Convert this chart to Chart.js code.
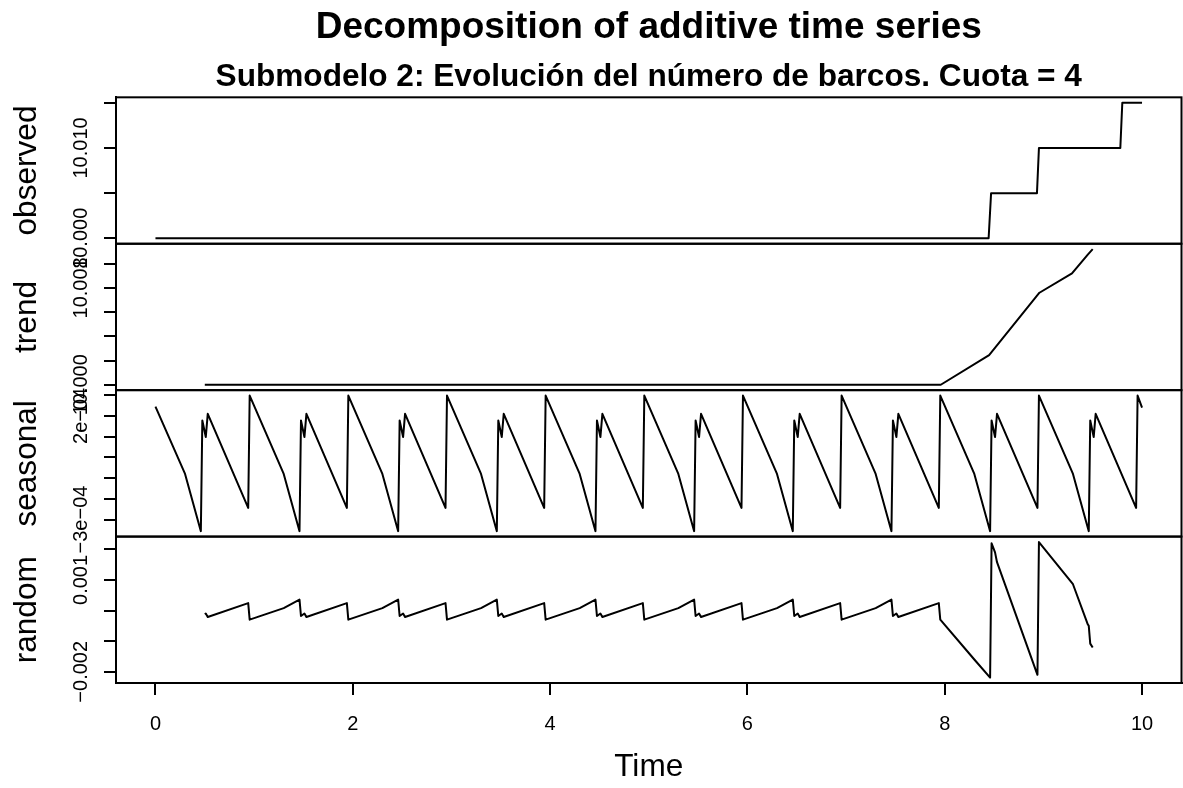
<!DOCTYPE html>
<html>
<head>
<meta charset="utf-8">
<title>Decomposition of additive time series</title>
<script src="https://cdn.jsdelivr.net/npm/chart.js@4.4.1/dist/chart.umd.min.js"></script>
<style>
  html, body { margin: 0; padding: 0; background: #fff; overflow: hidden; }
  canvas { display: block; }
</style>
</head>
<body>
<canvas id="myChart" width="1183" height="788"></canvas>
<script>
// observed series (step changes in the number of boats)
const observedTime = [0, 8.445, 8.47, 8.935, 8.955, 9.78, 9.80, 10];
const observedValue = [10.000, 10.000, 10.005, 10.005, 10.010, 10.010, 10.015, 10.015];

// trend (moving average, defined from 0.5 to 9.5)
const trendTime = [0.5, 7.96, 8.45, 8.96, 9.29, 9.45, 9.5];
const trendValue = [10.000, 10.000, 10.00245, 10.0076, 10.0092, 10.01075, 10.0112];

// seasonal component, vertices of each yearly cycle
const seasonalTime = [
  0,
  0.30, 0.46, 0.475, 0.51, 0.53, 0.94, 0.955,
  1.30, 1.46, 1.475, 1.51, 1.53, 1.94, 1.955,
  2.30, 2.46, 2.475, 2.51, 2.53, 2.94, 2.955,
  3.30, 3.46, 3.475, 3.51, 3.53, 3.94, 3.955,
  4.30, 4.46, 4.475, 4.51, 4.53, 4.94, 4.955,
  5.30, 5.46, 5.475, 5.51, 5.53, 5.94, 5.955,
  6.30, 6.46, 6.475, 6.51, 6.53, 6.94, 6.955,
  7.30, 7.46, 7.475, 7.51, 7.53, 7.94, 7.955,
  8.30, 8.46, 8.475, 8.51, 8.53, 8.94, 8.955,
  9.30, 9.46, 9.475, 9.51, 9.53, 9.94, 9.955,
  10
];
const seasonalValue = [
  0.000245,
  -0.000080, -0.000356, 0.000178, 0.000098, 0.000210, -0.000244, 0.000298,
  -0.000080, -0.000356, 0.000178, 0.000098, 0.000210, -0.000244, 0.000298,
  -0.000080, -0.000356, 0.000178, 0.000098, 0.000210, -0.000244, 0.000298,
  -0.000080, -0.000356, 0.000178, 0.000098, 0.000210, -0.000244, 0.000298,
  -0.000080, -0.000356, 0.000178, 0.000098, 0.000210, -0.000244, 0.000298,
  -0.000080, -0.000356, 0.000178, 0.000098, 0.000210, -0.000244, 0.000298,
  -0.000080, -0.000356, 0.000178, 0.000098, 0.000210, -0.000244, 0.000298,
  -0.000080, -0.000356, 0.000178, 0.000098, 0.000210, -0.000244, 0.000298,
  -0.000080, -0.000356, 0.000178, 0.000098, 0.000210, -0.000244, 0.000298,
  -0.000080, -0.000356, 0.000178, 0.000098, 0.000210, -0.000244, 0.000298,
  0.000240
];

// remainder
const randomTime = [
  0.5, 0.51, 0.53, 0.94, 0.955,
  1.30, 1.46, 1.475, 1.51, 1.53, 1.94, 1.955,
  2.30, 2.46, 2.475, 2.51, 2.53, 2.94, 2.955,
  3.30, 3.46, 3.475, 3.51, 3.53, 3.94, 3.955,
  4.30, 4.46, 4.475, 4.51, 4.53, 4.94, 4.955,
  5.30, 5.46, 5.475, 5.51, 5.53, 5.94, 5.955,
  6.30, 6.46, 6.475, 6.51, 6.53, 6.94, 6.955,
  7.30, 7.46, 7.475, 7.51, 7.53, 7.94, 7.955,
  8.30, 8.46, 8.475, 8.51, 8.53, 8.94, 8.955,
  9.30, 9.45, 9.46, 9.475, 9.5
];
const randomValue = [
  -0.000120, -0.000098, -0.000210, 0.000244, -0.000298,
  0.000080, 0.000356, -0.000178, -0.000098, -0.000210, 0.000244, -0.000298,
  0.000080, 0.000356, -0.000178, -0.000098, -0.000210, 0.000244, -0.000298,
  0.000080, 0.000356, -0.000178, -0.000098, -0.000210, 0.000244, -0.000298,
  0.000080, 0.000356, -0.000178, -0.000098, -0.000210, 0.000244, -0.000298,
  0.000080, 0.000356, -0.000178, -0.000098, -0.000210, 0.000244, -0.000298,
  0.000080, 0.000356, -0.000178, -0.000098, -0.000210, 0.000244, -0.000298,
  0.000080, 0.000356, -0.000178, -0.000098, -0.000210, 0.000244, -0.000298,
  -0.00160, -0.00219, 0.00220, 0.00190, 0.00158, -0.00210, 0.00224,
  0.00086, -0.00045, -0.00050, -0.00108, -0.00121
];

// axis ticks and the labels printed next to them
const timeTicks = [0, 2, 4, 6, 8, 10];
const observedTicks = [10.000, 10.005, 10.010, 10.015];
const observedLabels = ["10.000", "", "10.010", ""];
const trendTicks = [10.000, 10.002, 10.004, 10.006, 10.008, 10.010];
const trendLabels = ["10.000", "", "", "", "10.008", ""];
const seasonalTicks = [-0.0003, -0.0002, -0.0001, 0, 0.0001, 0.0002, 0.0003];
const seasonalLabels = ["\u22123e\u221204", "", "", "", "", "2e\u221204", ""];
const randomTicks = [-0.002, -0.001, 0, 0.001, 0.002];
const randomLabels = ["\u22120.002", "", "", "0.001", ""];

Chart.defaults.font.family = "'Liberation Sans', Arial, Helvetica, sans-serif";
Chart.defaults.color = "#000";

function points(xs, ys) {
  return xs.map((x, i) => ({ x: x, y: ys[i] }));
}

// R style range: data range padded by 4% on each side
function paddedRange(values) {
  const lo = Math.min(...values);
  const hi = Math.max(...values);
  const ext = (hi - lo) * 0.04;
  return { min: lo - ext, max: hi + ext };
}

// one stacked panel axis on the left
function panelAxis(name, values, ticks, labels, labelPadding, weight) {
  const r = paddedRange(values);
  return {
    type: "linear",
    position: "left",
    stack: "panels",
    stackWeight: 1,
    weight: weight,
    min: r.min,
    max: r.max,
    afterBuildTicks: (s) => { s.ticks = ticks.map((v) => ({ value: v })); },
    afterFit: (s) => { s.width = 116; },
    ticks: {
      autoSkip: false,
      minRotation: 90,
      maxRotation: 90,
      crossAlign: "center",
      padding: labelPadding,
      font: { size: 20 },
      color: "#000",
      callback: (v) => labels[ticks.indexOf(v)],
    },
    grid: {
      display: true,
      drawOnChartArea: false,
      drawTicks: true,
      tickLength: 12,
      tickColor: "#000",
      tickWidth: 2,
      lineWidth: 2,
    },
    border: { display: true, color: "#000", width: 2 },
    title: {
      display: true,
      text: name,
      font: { size: 31.6 },
      color: "#000",
      padding: { top: 8.2, bottom: 0 },
    },
  };
}

// box around every panel
const panelFrames = {
  id: "panelFrames",
  afterDraw(chart) {
    const { ctx, chartArea } = chart;
    ctx.save();
    ctx.strokeStyle = "#000";
    ctx.lineWidth = 2;
    ["yObs", "yTrend", "ySeas", "yRand"].forEach((id) => {
      const s = chart.scales[id];
      ctx.strokeRect(chartArea.left, s.top, chartArea.right - chartArea.left, s.bottom - s.top);
    });
    ctx.restore();
  },
};

const timeRange = paddedRange(observedTime);

const line = (data, axis) => ({
  data: data,
  yAxisID: axis,
  borderColor: "#000",
  borderWidth: 2,
  borderJoinStyle: "round",
  pointRadius: 0,
  tension: 0,
  fill: false,
});

const ctx = document.getElementById("myChart");

const chart = new Chart(ctx, {
  type: "line",
  data: {
    datasets: [
      line(points(observedTime, observedValue), "yObs"),
      line(points(trendTime, trendValue), "yTrend"),
      line(points(seasonalTime, seasonalValue), "ySeas"),
      line(points(randomTime, randomValue), "yRand"),
    ],
  },
  options: {
    responsive: false,
    animation: false,
    devicePixelRatio: 1,
    layout: { padding: { left: 0, right: 1.5, top: 0, bottom: 0 } },
    plugins: {
      legend: { display: false },
      tooltip: { enabled: false },
      title: {
        display: true,
        fullSize: false,
        text: "Decomposition of additive time series",
        font: { size: 37, weight: "bold" },
        color: "#000",
        padding: { top: 5.9, bottom: 0 },
      },
      subtitle: {
        display: true,
        fullSize: false,
        text: "Submodelo 2: Evolución del número de barcos. Cuota = 4",
        font: { size: 31.6, weight: "bold" },
        color: "#000",
        padding: { top: 8.2, bottom: 0.9 },
      },
    },
    scales: {
      x: {
        type: "linear",
        position: "bottom",
        min: timeRange.min,
        max: timeRange.max,
        afterBuildTicks: (s) => { s.ticks = timeTicks.map((v) => ({ value: v })); },
        afterFit: (s) => { s.height = 105; },
        ticks: {
          autoSkip: false,
          maxRotation: 0,
          padding: 17,
          font: { size: 20 },
          color: "#000",
          callback: (v) => String(v),
        },
        grid: {
          display: true,
          drawOnChartArea: false,
          tickLength: 12,
          tickColor: "#000",
          tickWidth: 2,
          lineWidth: 2,
        },
        border: { display: true, color: "#000", width: 2 },
        title: {
          display: true,
          text: "Time",
          font: { size: 31.6 },
          color: "#000",
          padding: { top: 0, bottom: 2.2 },
        },
      },
      yObs: panelAxis("observed", observedValue, observedTicks, observedLabels, -8.1, 4),
      yTrend: panelAxis("trend", trendValue, trendTicks, trendLabels, -8.1, 3),
      ySeas: panelAxis("seasonal", seasonalValue, seasonalTicks, seasonalLabels, -11.4, 2),
      yRand: panelAxis("random", randomValue, randomTicks, randomLabels, -8.4, 1),
    },
  },
  plugins: [panelFrames],
});
</script>
</body>
</html>
